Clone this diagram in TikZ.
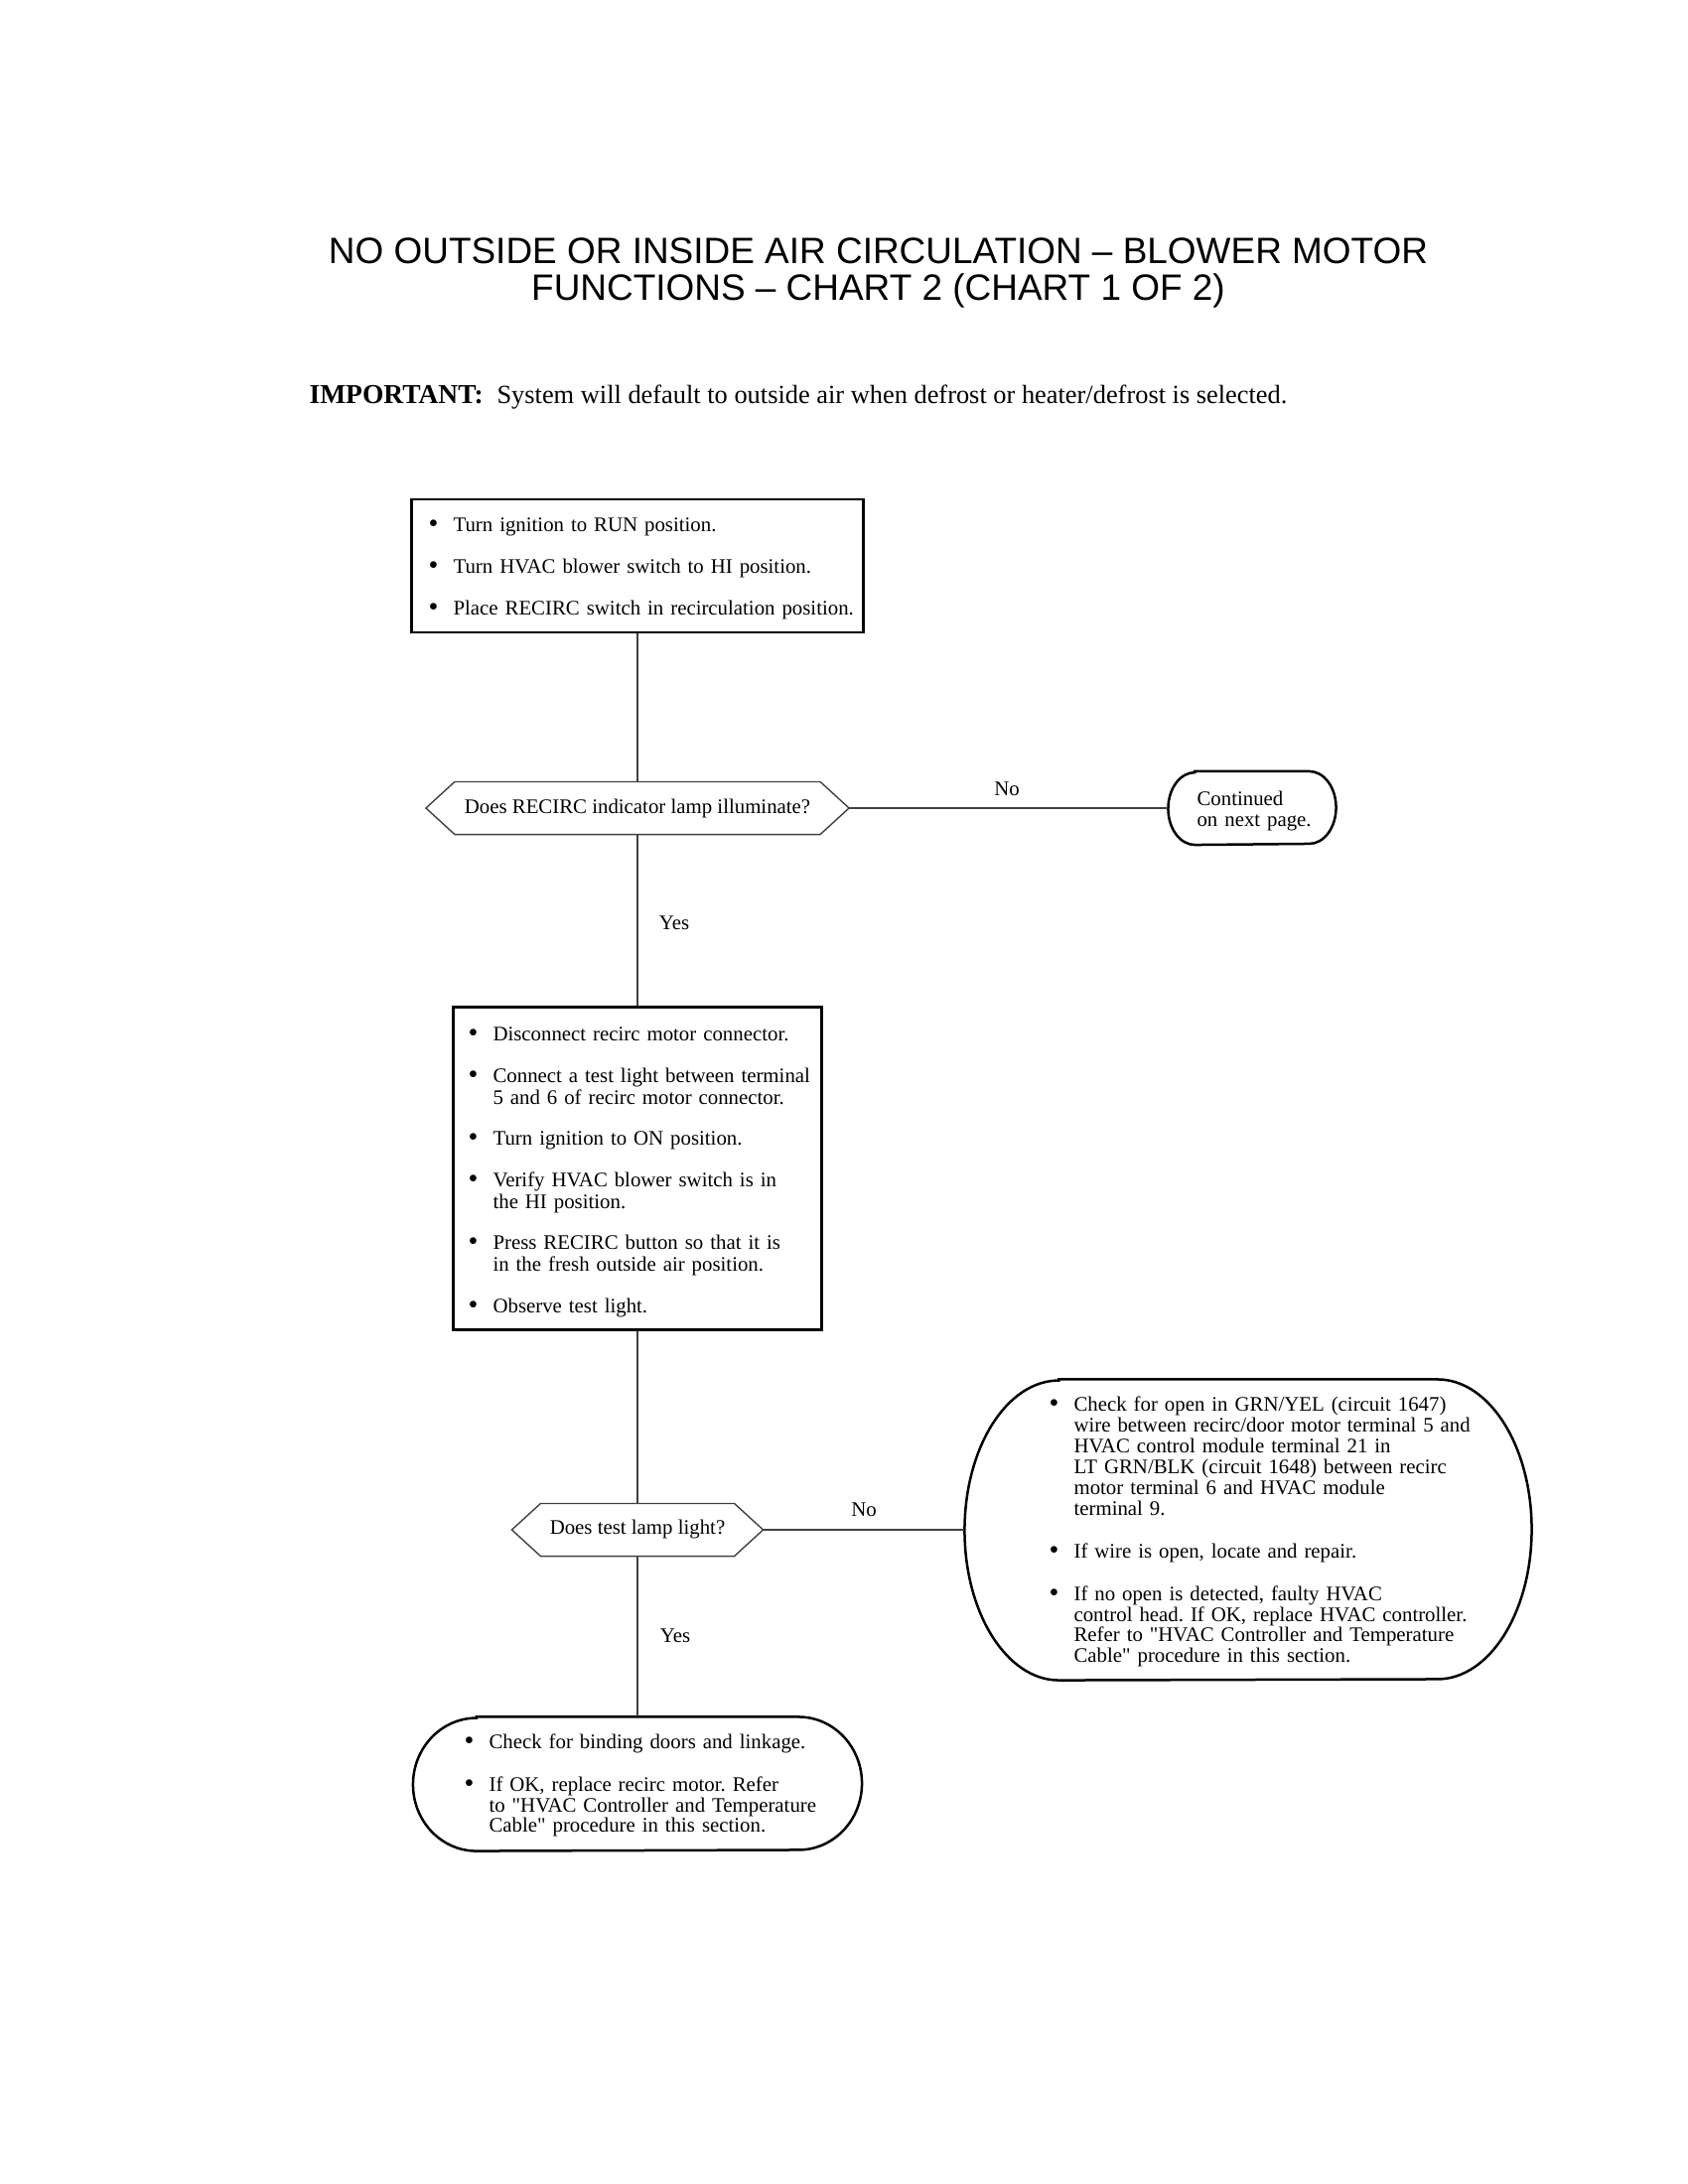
\documentclass[tikz,border=0pt]{standalone}
\usepackage{fontspec}
\defaultfontfeatures[\rmfamily]{}
\setmainfont{Liberation Serif}
\newfontfamily\titlefont{Liberation Sans}
\frenchspacing
\newcommand{\nl}{\hfil\break}
\newcommand{\bigbul}{\raisebox{-0.35pt}{\scalebox{1.35}{\textbullet}}}
\newcommand{\bitem}[1]{\par\hangindent=9pt\hangafter=1\noindent\makebox[9pt][l]{\bigbul}#1}
\newcommand{\termshape}[3]{%
  \draw[line width=0.9pt] ([xshift=#2]#1.north west) -- ([xshift=-#2]#1.north east)
    arc[start angle=90,end angle=-90,x radius=#2,y radius=#3]
    -- ([xshift=#2]#1.south west)
    arc[start angle=270,end angle=90,x radius=#2,y radius=#3] -- cycle;}
\newcommand{\hexshape}[2]{%
  \draw[line width=0.5pt, draw=black!75] (#1.west) -- ([xshift=#2]#1.north west) -- ([xshift=-#2]#1.north east)
    -- (#1.east) -- ([xshift=-#2]#1.south east) -- ([xshift=#2]#1.south west) -- cycle;}
\begin{document}
\begin{tikzpicture}[x=0.36pt,y=-0.36pt,
  box/.style={draw, line width=0.9pt, inner sep=0pt},
  term/.style={inner sep=0pt},
  dec/.style={inner sep=0pt, minimum height=18.72pt, font=\fontsize{7.5}{8.1}\selectfont},
  txt/.style={inner sep=0pt, anchor=west, text width=200pt},
  conn/.style={draw=black!75, line width=0.5pt},
  lab/.style={inner sep=0pt, font=\fontsize{7.5}{8.1}\selectfont}]
\fill[white] (0,0) rectangle (1700,2200);
\useasboundingbox (0,0) rectangle (1700,2200);

% title
\node[anchor=base, inner sep=0pt, font=\titlefont\fontsize{13.3}{13.3}\selectfont] (title1) at (884.5,266)
  {NO OUTSIDE OR INSIDE AIR CIRCULATION – BLOWER MOTOR};
\node[anchor=base, inner sep=0pt, font=\titlefont\fontsize{13.3}{13.3}\selectfont] (title2) at (884.5,303)
  {FUNCTIONS – CHART 2 (CHART 1 OF 2)};

\node[anchor=base west, inner sep=0pt, font=\fontsize{9.9}{11}\selectfont\bfseries] (imp) at (311,406) {IMPORTANT:};
\node[anchor=base west, inner sep=0pt, font=\fontsize{9.5}{11}\selectfont] (impt) at (500,406)
  {System will default to outside air when defrost or heater/defrost is selected.};

% box 1
\node[box, minimum width=163.8pt, minimum height=48.24pt] (b1) at (642,570) {};
\node[txt, font=\fontsize{7.5}{8.1}\selectfont] (b1t) at (431,559) {\setlength{\parskip}{7pt}%
  \bitem{Turn ignition to RUN position.}
  \bitem{Turn HVAC blower switch to HI position.}
  \bitem{Place RECIRC switch in recirculation position.}\par};

% decision 1
\node[dec, minimum width=153pt] (d1) at (642,814) {Does RECIRC indicator lamp illuminate?};
\hexshape{d1}{10.44pt}

% continued terminal
\node[term, minimum width=60.48pt, minimum height=26.28pt] (tc) at (1261,814) {};
\termshape{tc}{9.72pt}{13.14pt}
\node[txt, font=\fontsize{7.5}{7.8}\selectfont] (tct) at (1205,817) {Continued\nl on next page.};

% box 2
\node[box, minimum width=133.56pt, minimum height=117pt] (b2) at (642,1177) {};
\node[txt, font=\fontsize{7.5}{7.8}\selectfont] (b2t) at (471,1167) {\setlength{\parskip}{7.2pt}%
  \bitem{Disconnect recirc motor connector.}
  \bitem{Connect a test light between terminal\nl 5 and 6 of recirc motor connector.}
  \bitem{Turn ignition to ON position.}
  \bitem{Verify HVAC blower switch is in\nl the HI position.}
  \bitem{Press RECIRC button so that it is\nl in the fresh outside air position.}
  \bitem{Observe test light.}\par};

% decision 2
\node[dec, minimum width=90.72pt] (d2) at (642,1541) {Does test lamp light?};
\hexshape{d2}{10.44pt}

% right terminal
\node[term, minimum width=205.2pt, minimum height=108.72pt] (t2) at (1257,1541) {};
\termshape{t2}{34.2pt}{54.36pt}
\node[txt, font=\fontsize{7.5}{7.5}\selectfont] (t2t) at (1056,1529) {\setlength{\parskip}{8pt}%
  \bitem{Check for open in GRN/YEL (circuit 1647)\nl wire between recirc/door motor terminal 5 and\nl HVAC control module terminal 21 in\nl LT GRN/BLK (circuit 1648) between recirc\nl motor terminal 6 and HVAC module\nl terminal 9.}
  \bitem{If wire is open, locate and repair.}
  \bitem{If no open is detected, faulty HVAC\nl control head. If OK, replace HVAC controller.\nl Refer to "HVAC Controller and Temperature\nl Cable" procedure in this section.}\par};

% bottom terminal
\node[term, minimum width=162.36pt, minimum height=48.24pt] (t3) at (642,1797) {};
\termshape{t3}{23pt}{24.12pt}
\node[txt, font=\fontsize{7.5}{7.5}\selectfont] (t3t) at (467,1785) {\setlength{\parskip}{7.7pt}%
  \bitem{Check for binding doors and linkage.}
  \bitem{If OK, replace recirc motor. Refer\nl to "HVAC Controller and Temperature\nl Cable" procedure in this section.}\par};

% connectors
\draw[conn] (b1.south) -- (d1.north);
\draw[conn] (d1.east) -- (tc.west);
\draw[conn] (d1.south) -- (b2.north);
\draw[conn] (b2.south) -- (d2.north);
\draw[conn] (d2.east) -- (t2.west);
\draw[conn] (d2.south) -- (t3.north);

% labels
\node[lab] (no1) at (1014,795) {No};
\node[lab] (yes1) at (679,930) {Yes};
\node[lab] (no2) at (870,1521) {No};
\node[lab] (yes2) at (680,1648) {Yes};
\end{tikzpicture}
\end{document}
